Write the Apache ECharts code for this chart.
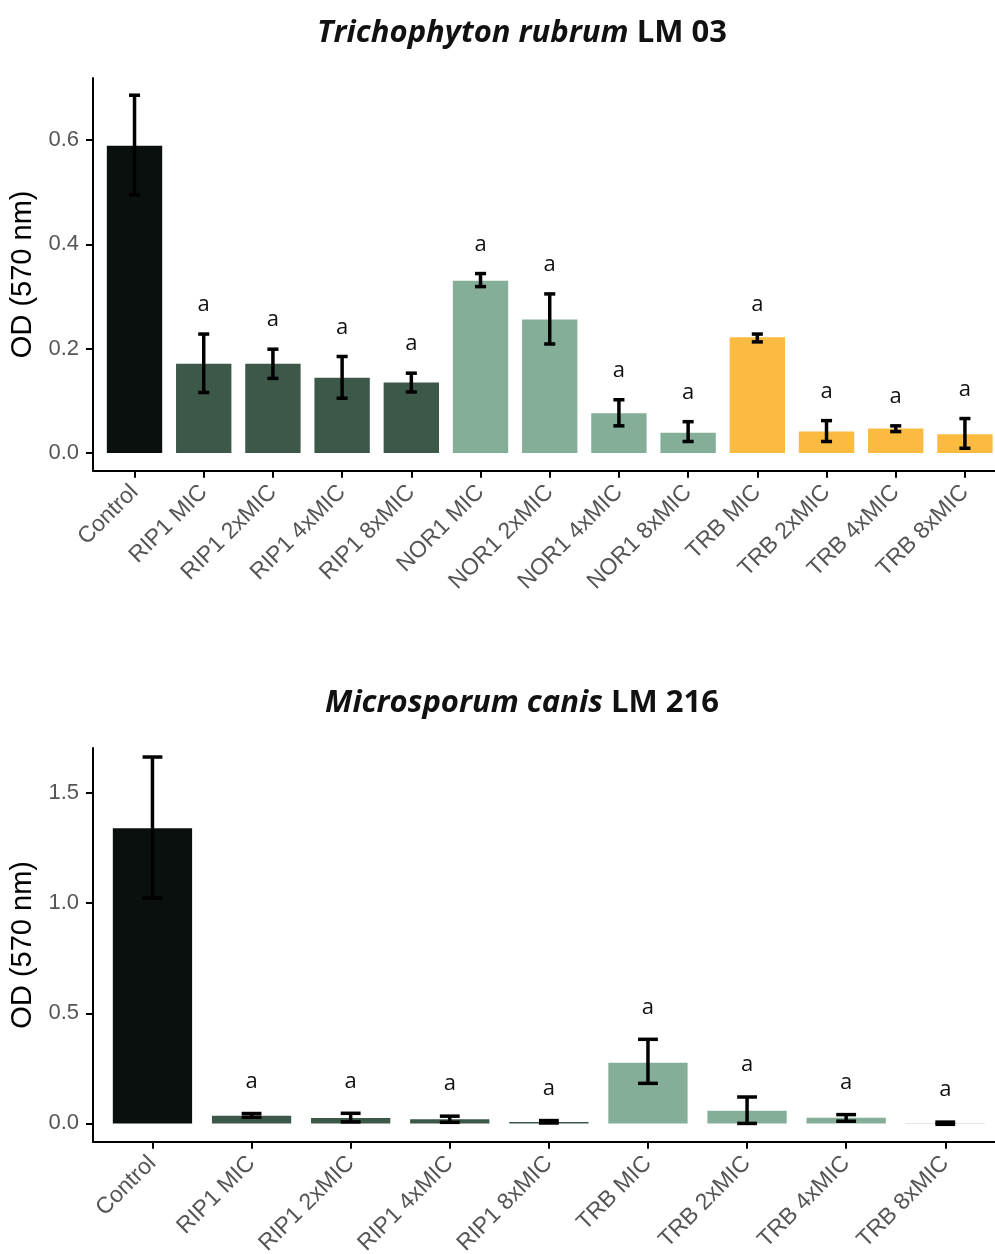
<!DOCTYPE html>
<html>
<head>
<meta charset="utf-8">
<script src="https://cdn.jsdelivr.net/npm/echarts@6/dist/echarts.min.js"></script>
<style>
html,body{margin:0;padding:0;background:#fff;}
#chart{width:995px;height:1254px;}
</style>
</head>
<body>
<div id="chart"></div>
<script>
// ---------- Data: Trichophyton rubrum LM 03 ----------
const cats1 = ['Control','RIP1 MIC','RIP1 2xMIC','RIP1 4xMIC','RIP1 8xMIC','NOR1 MIC','NOR1 2xMIC','NOR1 4xMIC','NOR1 8xMIC','TRB MIC','TRB 2xMIC','TRB 4xMIC','TRB 8xMIC'];
const group1 = ['Control','RIP1','RIP1','RIP1','RIP1','NOR1','NOR1','NOR1','NOR1','TRB','TRB','TRB','TRB'];
const mean1 = [0.589,0.171,0.171,0.144,0.135,0.330,0.256,0.076,0.039,0.222,0.041,0.047,0.036];
const low1  = [0.495,0.116,0.143,0.105,0.117,0.319,0.209,0.052,0.022,0.213,0.022,0.041,0.009];
const high1 = [0.686,0.228,0.199,0.185,0.153,0.344,0.305,0.102,0.060,0.228,0.062,0.052,0.066];
const letters1 = ['','a','a','a','a','a','a','a','a','a','a','a','a'];
const yTicks1 = [0,0.2,0.4,0.6];

// ---------- Data: Microsporum canis LM 216 ----------
const cats2 = ['Control','RIP1 MIC','RIP1 2xMIC','RIP1 4xMIC','RIP1 8xMIC','TRB MIC','TRB 2xMIC','TRB 4xMIC','TRB 8xMIC'];
const group2 = ['Control','RIP1','RIP1','RIP1','RIP1','TRB','TRB','TRB','TRB'];
const mean2 = [1.341,0.035,0.025,0.019,0.007,0.276,0.058,0.026,0.001];
const low2  = [1.023,0.028,0.007,0.005,0.002,0.182,0.000,0.010,-0.004];
const high2 = [1.664,0.045,0.046,0.033,0.013,0.382,0.120,0.040,0.006];
const letters2 = ['','a','a','a','a','a','a','a','a'];
const yTicks2 = [0,0.5,1.0,1.5];

// ---------- Styles ----------
const colors1 = {Control:'#0a100e', RIP1:'#3c5849', NOR1:'#85ae99', TRB:'#fbbb41'};
const colors2 = {Control:'#0a100e', RIP1:'#3c5849', TRB:'#85ae99'};
const axisFont = 'Liberation Sans, Arial, sans-serif';
const labFont = 'Open Sans, sans-serif';

function makeRender(groups, colorMap, letters, capFrac, labelOffset){
  return function(params, api){
    const i = api.value(0), v = api.value(1), lo = api.value(2), hi = api.value(3);
    const band = api.size([1,0])[0];
    const w = band*0.8;
    const base = api.coord([i,0]);
    const top = api.coord([i,v]);
    const pLo = api.coord([i,lo]);
    const pHi = api.coord([i,hi]);
    const cw = band*capFrac/2;
    const stroke = {stroke:'#000', lineWidth:3.5};
    const children = [
      {type:'rect', shape:{x:base[0]-w/2, y:top[1], width:w, height:base[1]-top[1]},
       style:{fill:colorMap[groups[params.dataIndex]]}},
      {type:'line', shape:{x1:pLo[0], y1:pLo[1], x2:pHi[0], y2:pHi[1]}, style:stroke},
      {type:'line', shape:{x1:pLo[0]-cw, y1:pLo[1], x2:pLo[0]+cw, y2:pLo[1]}, style:stroke},
      {type:'line', shape:{x1:pHi[0]-cw, y1:pHi[1], x2:pHi[0]+cw, y2:pHi[1]}, style:stroke}
    ];
    const t = letters[params.dataIndex];
    if (t) {
      children.push({type:'text', style:{text:t, x:pHi[0], y:pHi[1]-labelOffset, align:'center', verticalAlign:'middle',
        fill:'#111', font:'22px ' + labFont}});
    }
    return {type:'group', children:children};
  };
}

function buildData(mean, low, high){
  return mean.map((m,i)=>[i, m, low[i], high[i]]);
}

function xAxisCfg(idx, cats){
  const vals = cats.map((c,i)=>i);
  return {
    type:'value', gridIndex:idx, min:-0.6, max:cats.length-0.4,
    splitLine:{show:false},
    axisLine:{show:true, onZero:false, lineStyle:{color:'#000', width:2}},
    axisTick:{show:true, customValues:vals, length:7, lineStyle:{color:'#000', width:2}},
    axisLabel:{show:true, customValues:vals, rotate:45, margin:18, color:'#555',
      fontSize:23, fontFamily:axisFont, formatter:(v)=>cats[Math.round(v)]}
  };
}
function yAxisCfg(idx, min, max, ticks){
  return {
    type:'value', gridIndex:idx, min:min, max:max,
    splitLine:{show:false},
    name:'OD (570 nm)', nameLocation:'middle', nameRotate:90, nameGap:52,
    nameTextStyle:{fontSize:29, color:'#000', fontFamily:axisFont},
    axisLine:{show:true, onZero:false, lineStyle:{color:'#000', width:2}},
    axisTick:{show:true, customValues:ticks, length:7, lineStyle:{color:'#000', width:2}},
    axisLabel:{show:true, customValues:ticks, margin:14, color:'#555', fontSize:22, fontFamily:axisFont,
      formatter:(v)=>v.toFixed(1)}
  };
}

const titleRich = {
  i:{fontStyle:'italic', fontWeight:'bold', fontSize:31, fontFamily:labFont, fill:'#111'},
  b:{fontWeight:'bold', fontSize:31, fontFamily:labFont, fill:'#111'}
};

const chart = echarts.init(document.getElementById('chart'), null, {renderer:'canvas'});
chart.setOption({
  backgroundColor:'#fff',
  animation:false,
  graphic:[
    {type:'text', x:522, y:33, style:{text:'{i|Trichophyton rubrum}{b| LM 03}', align:'center', verticalAlign:'middle', rich:titleRich}},
    {type:'text', x:522, y:703, style:{text:'{i|Microsporum canis}{b| LM 216}', align:'center', verticalAlign:'middle', rich:titleRich}}
  ],
  grid:[
    {left:93, top:78, width:13.2*69.2, height:392.7, outerBoundsMode:'none', containLabel:false},
    {left:93, top:748, width:9.2*99.1, height:393.7, outerBoundsMode:'none', containLabel:false}
  ],
  xAxis:[xAxisCfg(0,cats1), xAxisCfg(1,cats2)],
  yAxis:[yAxisCfg(0,-0.034,0.719,yTicks1), yAxisCfg(1,-0.083,1.705,yTicks2)],
  series:[
    {type:'custom', xAxisIndex:0, yAxisIndex:0, clip:false,
     renderItem:makeRender(group1, colors1, letters1, 0.16, 29),
     encode:{x:0, y:1}, data:buildData(mean1,low1,high1)},
    {type:'custom', xAxisIndex:1, yAxisIndex:1, clip:false,
     renderItem:makeRender(group2, colors2, letters2, 0.2, 32),
     encode:{x:0, y:1}, data:buildData(mean2,low2,high2)}
  ]
});
</script>
</body>
</html>
